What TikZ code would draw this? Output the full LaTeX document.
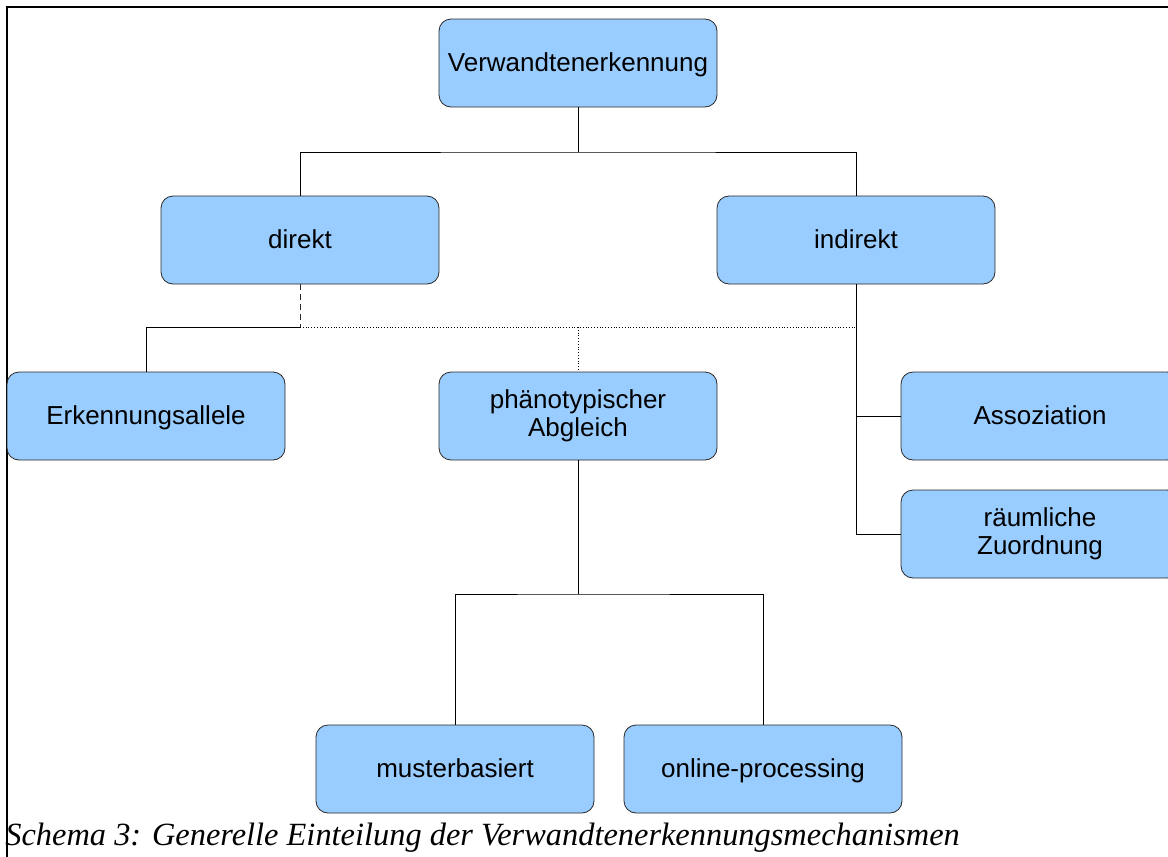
\documentclass[tikz,border=0pt]{standalone}
\usepackage{fontspec}
\setmainfont{Liberation Serif}
\setsansfont{Liberation Sans}
\usepackage{tikz}

\definecolor{boxblue}{RGB}{153,204,255}
\definecolor{boxline}{RGB}{40,40,40}

\begin{document}
\begin{tikzpicture}[x=0.5pt, y=-0.5pt, every node/.style={font=\sffamily\fontsize{13}{14}\selectfont},
	box/.style={draw=boxline, fill=boxblue, rounded corners=6pt, minimum width=139pt, minimum height=44pt, align=center, inner sep=0pt},
	oneline/.style={box, text height=10.5pt, text depth=1.6pt}]
	\useasboundingbox (0,0) rectangle (1168,857);
	% frame
	\draw[line width=1pt] (7,857) -- (7,7) -- (1168,7);
	% boxes
	\node[oneline] (verw) at (578,63) {Verwandtenerkennung};
	\node[oneline] (direkt) at (300,240) {direkt};
	\node[oneline] (indirekt) at (856,240) {indirekt};
	\node[oneline] (allele) at (146,416) {Erkennungsallele};
	\node[box] (abgleich) at (578,416) {phänotypischer\\Abgleich};
	\node[oneline] (assoz) at (1040,416) {Assoziation};
	\node[box] (raum) at (1040,534) {räumliche\\Zuordnung};
	\node[oneline] (muster) at (455,769) {musterbasiert};
	\node[oneline] (online) at (763,769) {online-processing};
	% junctions
	\coordinate (top) at (578,152);
	\coordinate (dj) at (300,327);
	\coordinate (mid) at (578,327);
	\coordinate (ij) at (856,327);
	\coordinate (pj) at (578,594);
	% connectors
	\draw (verw.south) -- (top);
	\draw (direkt.north) |- (top) -| (indirekt.north);
	\draw[densely dashed, boxline] (direkt.south) -- (dj);
	\draw (dj) -| (allele.north);
	\draw[densely dotted] (dj) -- (ij);
	\draw[densely dotted] (mid) -- (abgleich.north);
	\draw (indirekt.south) |- (assoz.west);
	\draw (indirekt.south) |- (raum.west);
	\draw (abgleich.south) -- (pj);
	\draw (muster.north) |- (pj) -| (online.north);
	% caption
	\node[font=\rmfamily\itshape\fontsize{16.2}{18}\selectfont, anchor=base west, inner sep=0pt] (caption) at (5,845) {Schema 3: Generelle Einteilung der Verwandtenerkennungsmechanismen};
\end{tikzpicture}
\end{document}
